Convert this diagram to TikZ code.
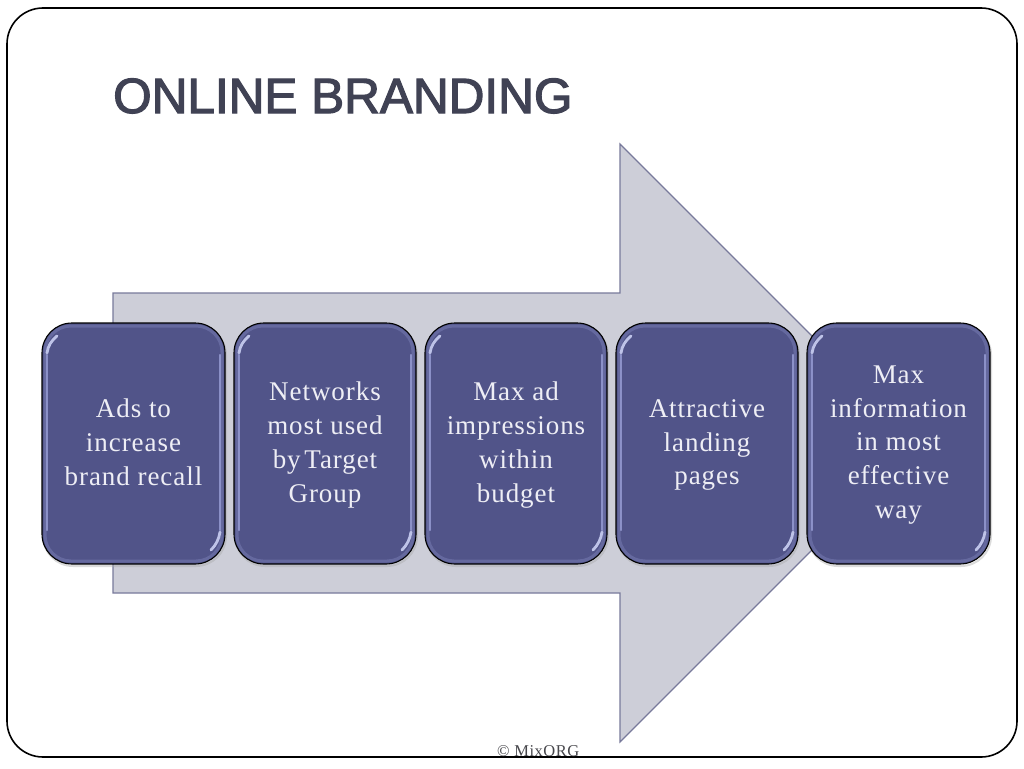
\documentclass[tikz,border=0pt]{standalone}
\usepackage{fontspec}
\setmainfont[LetterSpace=3.5]{Liberation Serif}
\newfontfamily\titlefont[FakeBold=2.4]{Liberation Sans}
\newfontfamily\footfont[LetterSpace=3]{Liberation Serif}
\begin{document}
\begin{tikzpicture}[x=1pt,y=-1pt,
  framebox/.style={draw=black,line width=1.6pt,rounded corners=36pt},
  bigarrow/.style={draw=arrowline,fill=arrowfill,line width=1.1pt,line join=miter},
  cardbox/.style={draw=black,line width=1.1pt,fill=cardfill,rounded corners=30pt},
  band/.style={draw=cardlight,line width=3pt,rounded corners=26pt,opacity=.3},
  gloss/.style={draw=cardlight,line width=2.4pt,line cap=round,opacity=.85},
  arcgloss/.style={draw=cardbright,line width=2.8pt,line cap=round},
  cardtext/.style={text=cardtxt,font=\fontsize{27}{33.8}\selectfont,align=center,anchor=center,inner sep=0pt},
  titletext/.style={text=titlecol,font=\titlefont\fontsize{49.5}{54}\selectfont,anchor=base west,inner sep=0pt},
  foot/.style={text=footcol,font=\footfont\fontsize{16.5}{18}\selectfont,anchor=base west,inner sep=0pt}]
\definecolor{arrowfill}{RGB}{205,206,216}
\definecolor{arrowline}{RGB}{120,122,155}
\definecolor{cardfill}{RGB}{81,84,137}
\definecolor{cardlight}{RGB}{150,155,210}
\definecolor{cardbright}{RGB}{190,195,232}
\definecolor{cardtxt}{RGB}{238,238,245}
\definecolor{titlecol}{RGB}{64,66,84}
\definecolor{footcol}{RGB}{70,70,75}
\useasboundingbox (0,0) rectangle (1024,768);
\fill[white] (0,0) rectangle (1024,768);
\draw[framebox] (7,8) rectangle (1017,757);
\node[titletext] (title) at (113,113) {ONLINE BRANDING};
\draw[bigarrow] (113,293) -- (620,293) -- (620,144) -- (919,443) -- (620,742) -- (620,593) -- (113,593) -- cycle;
\foreach \nm/\xa/\xb in {a/42/225,b/234/416,c/425/607,d/616/798,e/807/990}{
  \draw[black!35,line width=2pt,rounded corners=30pt,opacity=.4] (\xa+1,325) rectangle (\xb+1,566);
  \draw[cardbox] (\xa,323) rectangle (\xb,564);
  \draw[band] (\xa+3,326) rectangle (\xb-3,561);
  \draw[gloss] (\xa+5,355) -- (\xa+5,530);
  \draw[gloss] (\xb-5,355) -- (\xb-5,530);
  \draw[arcgloss] (\xa+5,353) .. controls (\xa+6,346) and (\xa+9,341) .. (\xa+15,336);
  \draw[arcgloss] (\xb-5,532) .. controls (\xb-6,539) and (\xb-9,545) .. (\xb-14,550);
}
\node[cardtext] (t1) at (133.5,442) {Ads to\\increase\\brand recall};
\node[cardtext] (t2) at (325,445) {Networks\\most used\\by\kern-4pt{} Target\\Group};
\node[cardtext] (t3) at (516,445) {Max ad\\impressions\\within\\budget};
\node[cardtext] (t4) at (707,445) {Attractive\\landing\\pages};
\node[cardtext] (t5) at (898.5,445) {Max\\information\\in most\\effective\\way};
\node[foot] (footer) at (497,756) {© MixORG};
\end{tikzpicture}
\end{document}
